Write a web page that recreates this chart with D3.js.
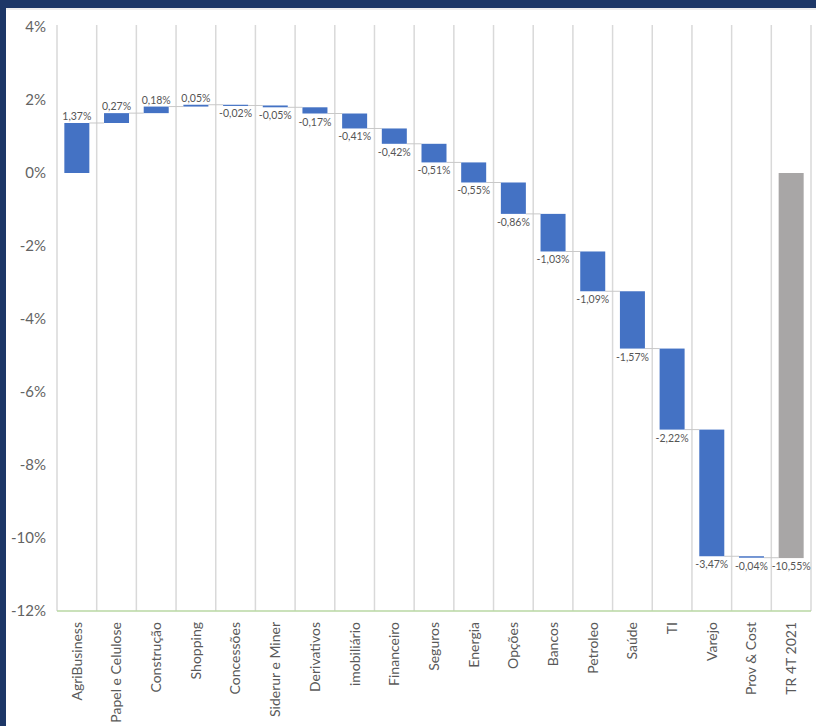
<!DOCTYPE html>
<html>
<head>
<meta charset="utf-8">
<script src="https://cdn.jsdelivr.net/npm/d3@7"></script>
<style>
  html, body { margin: 0; padding: 0; background: #ffffff; }
  svg { display: block; }
</style>
</head>
<body>
<svg id="chart" width="816" height="726"></svg>
<script>
// ---- data ----
const categories = ["AgriBusiness", "Papel e Celulose", "Construção", "Shopping", "Concessões",
  "Siderur e Miner", "Derivativos", "imobiliário", "Financeiro", "Seguros", "Energia", "Opções",
  "Bancos", "Petroleo", "Saúde", "TI", "Varejo", "Prov & Cost", "TR 4T 2021"];
const deltas = [1.37, 0.27, 0.18, 0.05, -0.02, -0.05, -0.17, -0.41, -0.42, -0.51, -0.55, -0.86,
  -1.03, -1.09, -1.57, -2.22, -3.47, -0.04, -10.55];
const isTotal = [false, false, false, false, false, false, false, false, false, false, false, false,
  false, false, false, false, false, false, true];
const yTicks = [4, 2, 0, -2, -4, -6, -8, -10, -12];

// ---- layout ----
const svg = d3.select("#chart");
const W = 816, H = 726;
const plot = { left: 57, right: 811, top: 27, bottom: 611 };
const fontFam = "Lato, 'Open Sans', 'Noto Sans', sans-serif";

// frame
svg.append("rect").attr("x", 0).attr("y", 0).attr("width", W).attr("height", H).attr("fill", "#1d3767");
svg.append("rect").attr("x", 6).attr("y", 8).attr("width", W - 6).attr("height", H - 8).attr("fill", "#ffffff");
svg.append("line").attr("x1", 6).attr("x2", W).attr("y1", 9).attr("y2", 9).attr("stroke", "#eeeeee").attr("stroke-width", 2);

// build waterfall records
let cum = 0;
const recs = categories.map((c, i) => {
  let start, end;
  if (isTotal[i]) { start = 0; end = deltas[i]; }
  else { start = cum; end = cum + deltas[i]; cum = end; }
  return { cat: c, v: deltas[i], start, end, total: isTotal[i] };
});

const x = d3.scaleBand().domain(categories).range([plot.left, plot.right]).paddingInner(0).paddingOuter(0);
const y = d3.scaleLinear().domain([-12, 4]).range([plot.bottom, plot.top]);

// vertical gridlines (category separators)
const g = svg.append("g");
const seps = categories.map(c => x(c)).concat([plot.right]);
g.selectAll("line.grid").data(seps).enter().append("line")
  .attr("x1", d => d).attr("x2", d => d)
  .attr("y1", plot.top - 2).attr("y2", plot.bottom)
  .attr("stroke", "#d9d9d9").attr("stroke-width", 1.5);

// baseline at -12%
g.append("line").attr("x1", plot.left).attr("x2", plot.right)
  .attr("y1", y(-12)).attr("y2", y(-12))
  .attr("stroke", "#b9d7a3").attr("stroke-width", 1.5);

// y axis labels
const yAxis = d3.axisLeft(y).tickValues(yTicks).tickSize(0).tickPadding(0)
  .tickFormat(d => d + "%");
const ya = svg.append("g").attr("transform", `translate(46,0)`).call(yAxis);
ya.select(".domain").remove();
ya.selectAll("text").attr("font-family", fontFam).attr("font-size", 15).attr("fill", "#636363");

// x axis labels
const xAxis = d3.axisBottom(x).tickSize(0).tickPadding(0);
const xa = svg.append("g").attr("transform", `translate(0,${plot.bottom})`).call(xAxis);
xa.select(".domain").remove();
xa.selectAll("text")
  .attr("font-family", fontFam).attr("font-size", 14).attr("fill", "#595959")
  .attr("transform", "rotate(-90)")
  .attr("text-anchor", "end")
  .attr("x", -11).attr("y", 0).attr("dy", "0.35em");

// connectors
const bw = x.bandwidth() * 0.63;
const off = (x.bandwidth() - bw) / 2;
const conns = recs.slice(0, -1).map((r, i) => ({ level: r.end, x1: x(r.cat) + off + bw, x2: x(recs[i + 1].cat) + off }));
g.selectAll("line.conn").data(conns).enter().append("line")
  .attr("x1", d => d.x1).attr("x2", d => d.x2)
  .attr("y1", d => y(d.level)).attr("y2", d => y(d.level))
  .attr("stroke", "#c8c8c8").attr("stroke-width", 1);

// bars
g.selectAll("rect.bar").data(recs).enter().append("rect")
  .attr("x", d => x(d.cat) + off)
  .attr("width", bw)
  .attr("y", d => y(Math.max(d.start, d.end)))
  .attr("height", d => Math.max(1.2, Math.abs(y(d.start) - y(d.end))))
  .attr("fill", d => d.total ? "#a8a6a6" : "#4472c4");

// data labels
const fmt = v => d3.format(".2f")(v).replace(".", ",").replace("−", "-") + "%";
g.selectAll("text.lbl").data(recs).enter().append("text")
  .attr("x", d => x(d.cat) + x.bandwidth() / 2)
  .attr("y", d => d.v >= 0 ? y(Math.max(d.start, d.end)) - 3 : y(Math.min(d.start, d.end)) + 12)
  .attr("text-anchor", "middle")
  .attr("font-family", fontFam).attr("font-size", 10.5).attr("fill", "#555555")
  .text(d => fmt(d.v));
</script>
</body>
</html>
